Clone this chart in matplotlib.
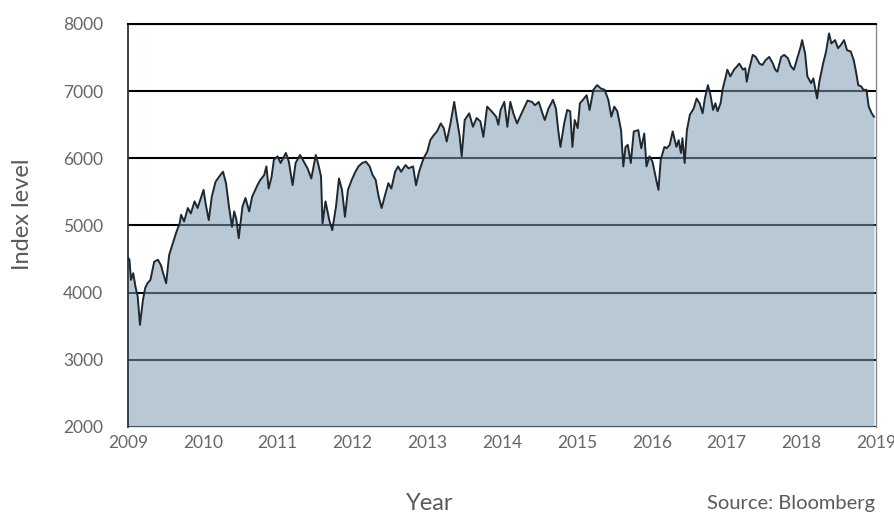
import matplotlib
matplotlib.use("Agg")
import matplotlib.pyplot as plt

# index level (decimal year, level)
years = [
    2009.00, 2009.02, 2009.04, 2009.07, 2009.10, 2009.13, 2009.16, 2009.20, 2009.23, 2009.26,
    2009.30, 2009.35, 2009.40, 2009.44, 2009.47, 2009.51, 2009.55, 2009.60, 2009.64, 2009.69,
    2009.71, 2009.75, 2009.80, 2009.84, 2009.89, 2009.93, 2009.98, 2010.01, 2010.04, 2010.08,
    2010.12, 2010.17, 2010.22, 2010.27, 2010.31, 2010.35, 2010.39, 2010.42, 2010.45, 2010.48,
    2010.53, 2010.57, 2010.62, 2010.66, 2010.73, 2010.77, 2010.82, 2010.85, 2010.88, 2010.92,
    2010.95, 2011.00, 2011.04, 2011.11, 2011.15, 2011.20, 2011.24, 2011.30, 2011.35, 2011.40,
    2011.45, 2011.51, 2011.55, 2011.58, 2011.60, 2011.64, 2011.69, 2011.73, 2011.78, 2011.82,
    2011.86, 2011.90, 2011.94, 2011.99, 2012.04, 2012.08, 2012.13, 2012.18, 2012.23, 2012.27,
    2012.31, 2012.35, 2012.39, 2012.43, 2012.48, 2012.52, 2012.57, 2012.61, 2012.65, 2012.71,
    2012.75, 2012.81, 2012.85, 2012.89, 2012.95, 2013.00, 2013.04, 2013.09, 2013.13, 2013.18,
    2013.22, 2013.26, 2013.31, 2013.36, 2013.39, 2013.43, 2013.46, 2013.50, 2013.56, 2013.61,
    2013.66, 2013.71, 2013.75, 2013.80, 2013.86, 2013.92, 2013.95, 2013.98, 2014.03, 2014.07,
    2014.11, 2014.15, 2014.20, 2014.24, 2014.29, 2014.34, 2014.40, 2014.44, 2014.49, 2014.53,
    2014.57, 2014.62, 2014.68, 2014.72, 2014.75, 2014.78, 2014.83, 2014.87, 2014.91, 2014.94,
    2014.97, 2015.01, 2015.04, 2015.08, 2015.13, 2015.17, 2015.22, 2015.27, 2015.32, 2015.37,
    2015.42, 2015.46, 2015.50, 2015.54, 2015.59, 2015.62, 2015.65, 2015.68, 2015.72, 2015.76,
    2015.82, 2015.86, 2015.90, 2015.93, 2015.97, 2016.01, 2016.06, 2016.09, 2016.12, 2016.17,
    2016.20, 2016.24, 2016.28, 2016.33, 2016.36, 2016.39, 2016.41, 2016.44, 2016.47, 2016.51,
    2016.56, 2016.60, 2016.64, 2016.68, 2016.71, 2016.75, 2016.78, 2016.82, 2016.85, 2016.88,
    2016.92, 2016.95, 2016.99, 2017.01, 2017.05, 2017.10, 2017.14, 2017.17, 2017.22, 2017.25,
    2017.27, 2017.30, 2017.35, 2017.39, 2017.44, 2017.48, 2017.52, 2017.57, 2017.62, 2017.65,
    2017.68, 2017.73, 2017.77, 2017.82, 2017.86, 2017.90, 2017.95, 2017.99, 2018.01, 2018.05,
    2018.08, 2018.13, 2018.16, 2018.21, 2018.24, 2018.29, 2018.33, 2018.37, 2018.40, 2018.45,
    2018.49, 2018.53, 2018.57, 2018.61, 2018.66, 2018.70, 2018.73, 2018.76, 2018.80, 2018.83,
    2018.87, 2018.90, 2018.94, 2018.97,
]
levels = [
    4520, 4490, 4190, 4290, 4090, 3940, 3520, 3890, 4070, 4140,
    4190, 4460, 4490, 4410, 4290, 4140, 4560, 4740, 4880, 5030,
    5160, 5060, 5260, 5180, 5360, 5260, 5430, 5530, 5310, 5080,
    5430, 5650, 5730, 5800, 5630, 5280, 4980, 5210, 5080, 4810,
    5280, 5410, 5210, 5430, 5600, 5680, 5750, 5880, 5550, 5730,
    5980, 6030, 5930, 6080, 5950, 5600, 5930, 6050, 5950, 5850,
    5700, 6050, 5880, 5730, 5030, 5360, 5080, 4930, 5280, 5700,
    5530, 5130, 5530, 5680, 5800, 5880, 5930, 5950, 5880, 5750,
    5680, 5430, 5260, 5430, 5630, 5550, 5800, 5880, 5800, 5900,
    5850, 5880, 5600, 5800, 6000, 6100, 6270, 6350, 6400, 6520,
    6450, 6250, 6520, 6840, 6620, 6350, 6030, 6570, 6670, 6470,
    6600, 6550, 6320, 6770, 6700, 6620, 6500, 6720, 6840, 6470,
    6840, 6670, 6520, 6620, 6740, 6860, 6840, 6790, 6840, 6700,
    6570, 6740, 6870, 6740, 6420, 6170, 6520, 6720, 6700, 6170,
    6570, 6450, 6820, 6870, 6940, 6720, 7020, 7090, 7040, 7020,
    6870, 6620, 6770, 6700, 6420, 5880, 6170, 6200, 5930, 6400,
    6420, 6150, 6370, 5880, 6030, 5950, 5680, 5530, 5980, 6170,
    6150, 6200, 6400, 6170, 6270, 6080, 6300, 5930, 6420, 6650,
    6740, 6890, 6820, 6670, 6890, 7090, 6970, 6720, 6820, 6700,
    6820, 7040, 7220, 7320, 7220, 7320, 7370, 7410, 7320, 7340,
    7140, 7320, 7540, 7510, 7410, 7390, 7460, 7510, 7410, 7320,
    7290, 7510, 7540, 7490, 7370, 7320, 7510, 7660, 7760, 7560,
    7220, 7120, 7190, 6890, 7140, 7410, 7590, 7860, 7710, 7760,
    7640, 7690, 7760, 7610, 7590, 7460, 7290, 7090, 7070, 7020,
    7020, 6770, 6670, 6620,
]
year_ticks = [2009, 2010, 2011, 2012, 2013, 2014, 2015, 2016, 2017, 2018, 2019]
level_ticks = [2000, 3000, 4000, 5000, 6000, 7000, 8000]

plt.rcParams['font.family'] = ['Lato', 'DejaVu Sans']

fig = plt.figure(figsize=(8.95, 5.16), dpi=100)
ax = fig.add_axes([0.143, 0.1725, 0.836, 0.781])

ax.fill_between(years, levels, 2000, color='#7e9db3', alpha=0.55, linewidth=0, zorder=2)
ax.plot(years, levels, color='#1e2830', linewidth=1.4, zorder=3)

ax.set_xlim(2009, 2019)
ax.set_ylim(2000, 8000)
ax.set_xticks(year_ticks)
ax.set_yticks(level_ticks)

ax.yaxis.grid(True, color='black', linewidth=1.5)
ax.set_axisbelow(True)
ax.tick_params(length=0, labelsize=12.5, colors='#666666')
ax.tick_params(axis='y', pad=18)
ax.tick_params(axis='x', pad=6)

ax.spines['bottom'].set_visible(False)
ax.spines['top'].set_linewidth(1.5)
ax.spines['left'].set_linewidth(1.3)
ax.spines['left'].set_color('#2a3540')
ax.spines['right'].set_color('#8a8a8a')
ax.spines['right'].set_linewidth(1.0)

fig.text(0.025, 0.585, 'Index level', rotation=90, ha='center', va='center',
         fontsize=17, color='#5a5a5a')
fig.text(0.48, 0.025, 'Year', ha='center', va='center',
         fontsize=17, color='#5a5a5a')
fig.text(0.978, 0.025, 'Source: Bloomberg', ha='right', va='center',
         fontsize=14.5, color='#5a5a5a')

fig.savefig('out.png', dpi=100)
